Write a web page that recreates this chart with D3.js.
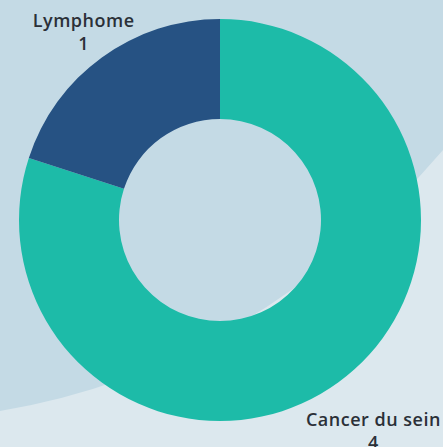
<!DOCTYPE html>
<html>
<head>
<meta charset="utf-8">
<script src="https://cdn.jsdelivr.net/npm/d3@7"></script>
<style>
  html, body { margin: 0; padding: 0; overflow: hidden; background: #c4dae5; }
  svg { display: block; }
  text { font-family: "Open Sans", "DejaVu Sans", sans-serif; font-weight: 600; fill: #2b3038; }
</style>
</head>
<body>
<svg id="chart" width="443" height="447"></svg>
<script>
const categories = ["Cancer du sein", "Lymphome"];
const values = [4, 1];
const colors = ["#1dbba8", "#265283"];

const W = 443, H = 447;
const svg = d3.select("#chart");

// background shapes
svg.append("rect").attr("width", W).attr("height", H).attr("fill", "#c4dae5");
const bg = d3.path();
bg.moveTo(0, 411);
bg.quadraticCurveTo(256, 368, W, 150);
bg.lineTo(W, H);
bg.lineTo(0, H);
bg.closePath();
svg.append("path").attr("d", bg.toString()).attr("fill", "#dce8ee");

const cx = 220, cy = 220, outerR = 201, innerR = 101;
const pie = d3.pie().sort(null).value(d => d.v);
const data = categories.map((c, i) => ({ c, v: values[i], col: colors[i] }));
const arcs = pie(data);
const arc = d3.arc().innerRadius(innerR).outerRadius(outerR);

const g = svg.append("g").attr("transform", `translate(${cx},${cy})`);
g.selectAll("path.slice").data(arcs).enter().append("path")
  .attr("class", "slice")
  .attr("d", arc)
  .attr("fill", d => d.data.col);

// labels
const labelOffset = d => {
  const mid = (d.startAngle + d.endAngle) / 2;
  return Math.cos(mid) > 0 ? 31 : 60;
};
arcs.forEach(d => {
  const mid = (d.startAngle + d.endAngle) / 2;
  const r = outerR + labelOffset(d);
  const x = Math.sin(mid) * r;
  const y = -Math.cos(mid) * r;
  const t = g.append("text").attr("text-anchor", "middle")
    .attr("font-size", 18).attr("letter-spacing", 0.5);
  t.append("tspan").attr("x", x).attr("y", y - 5).text(d.data.c);
  t.append("tspan").attr("x", x).attr("y", y + 18).text(d.data.v);
});
</script>
</body>
</html>
